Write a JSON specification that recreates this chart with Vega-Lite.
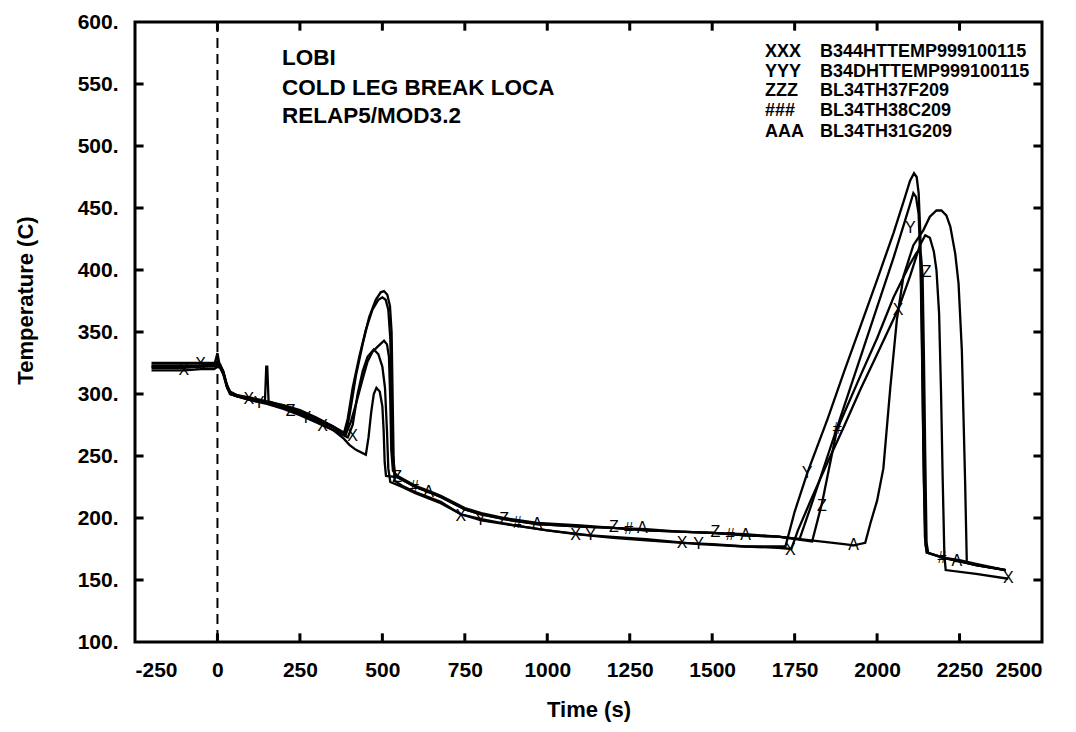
{
"$schema": "https://vega.github.io/schema/vega-lite/v6.json",
"width": 907, "height": 620,
"autosize": "none",
"padding": {"left": 135, "top": 22, "right": 34, "bottom": 90},
"background": "white",
"config": {
  "view": {"stroke": "black", "strokeWidth": 3},
  "axis": {"domain": false, "grid": false, "ticks": false,
    "labelFont": "Liberation Sans", "labelFontWeight": "bold", "labelFontSize": 21, "labelColor": "black",
    "titleFont": "Liberation Sans", "titleFontWeight": "bold", "titleFontSize": 22, "titleColor": "black"}
},
"datasets": {
  "zero": [{"t": 0}],
  "xt": [{"v":0},{"v":250},{"v":500},{"v":750},{"v":1000},{"v":1250},{"v":1500},{"v":1750},{"v":2000},{"v":2250}],
  "yt": [{"v":150},{"v":200},{"v":250},{"v":300},{"v":350},{"v":400},{"v":450},{"v":500},{"v":550}],
  "lines": [
{"s":"X","t":-200,"T":319},{"s":"X","t":-150,"T":319},{"s":"X","t":-100,"T":319},{"s":"X","t":-50,"T":320},{"s":"X","t":-10,"T":320},{"s":"X","t":0,"T":322},{"s":"X","t":8,"T":321},{"s":"X","t":18,"T":316},{"s":"X","t":28,"T":306},{"s":"X","t":38,"T":300},{"s":"X","t":60,"T":298},{"s":"X","t":100,"T":295},{"s":"X","t":150,"T":292},{"s":"X","t":200,"T":288},{"s":"X","t":250,"T":283},{"s":"X","t":300,"T":277},{"s":"X","t":350,"T":271},{"s":"X","t":395,"T":265},{"s":"X","t":410,"T":275},{"s":"X","t":425,"T":300},{"s":"X","t":440,"T":318},{"s":"X","t":455,"T":330},{"s":"X","t":474,"T":336},{"s":"X","t":488,"T":332},{"s":"X","t":500,"T":322},{"s":"X","t":508,"T":305},{"s":"X","t":514,"T":270},{"s":"X","t":518,"T":240},{"s":"X","t":524,"T":229},{"s":"X","t":560,"T":225},{"s":"X","t":600,"T":220},{"s":"X","t":677,"T":212},{"s":"X","t":738,"T":203},{"s":"X","t":800,"T":199},{"s":"X","t":900,"T":194},{"s":"X","t":1000,"T":190},{"s":"X","t":1086,"T":187},{"s":"X","t":1200,"T":184},{"s":"X","t":1300,"T":182},{"s":"X","t":1409,"T":180},{"s":"X","t":1500,"T":179},{"s":"X","t":1600,"T":177},{"s":"X","t":1700,"T":176},{"s":"X","t":1740,"T":175},{"s":"X","t":1760,"T":190},{"s":"X","t":1800,"T":215},{"s":"X","t":1850,"T":245},{"s":"X","t":1900,"T":274},{"s":"X","t":1950,"T":304},{"s":"X","t":2000,"T":332},{"s":"X","t":2065,"T":369},{"s":"X","t":2100,"T":395},{"s":"X","t":2130,"T":420},{"s":"X","t":2146,"T":428},{"s":"X","t":2160,"T":426},{"s":"X","t":2172,"T":415},{"s":"X","t":2180,"T":400},{"s":"X","t":2188,"T":365},{"s":"X","t":2194,"T":300},{"s":"X","t":2199,"T":230},{"s":"X","t":2204,"T":170},{"s":"X","t":2208,"T":158},{"s":"X","t":2300,"T":155},{"s":"X","t":2398,"T":151},
{"s":"Y","t":-200,"T":321},{"s":"Y","t":-150,"T":321},{"s":"Y","t":-100,"T":321},{"s":"Y","t":-50,"T":322},{"s":"Y","t":-10,"T":323},{"s":"Y","t":0,"T":333},{"s":"Y","t":6,"T":324},{"s":"Y","t":18,"T":318},{"s":"Y","t":30,"T":305},{"s":"Y","t":40,"T":300},{"s":"Y","t":60,"T":298},{"s":"Y","t":100,"T":296},{"s":"Y","t":144,"T":294},{"s":"Y","t":148,"T":322},{"s":"Y","t":151,"T":322},{"s":"Y","t":155,"T":294},{"s":"Y","t":200,"T":290},{"s":"Y","t":250,"T":285},{"s":"Y","t":300,"T":279},{"s":"Y","t":350,"T":273},{"s":"Y","t":388,"T":267},{"s":"Y","t":400,"T":282},{"s":"Y","t":420,"T":315},{"s":"Y","t":440,"T":340},{"s":"Y","t":460,"T":362},{"s":"Y","t":480,"T":376},{"s":"Y","t":495,"T":382},{"s":"Y","t":505,"T":383},{"s":"Y","t":515,"T":380},{"s":"Y","t":523,"T":371},{"s":"Y","t":528,"T":350},{"s":"Y","t":531,"T":300},{"s":"Y","t":534,"T":250},{"s":"Y","t":537,"T":230},{"s":"Y","t":560,"T":226},{"s":"Y","t":600,"T":221},{"s":"Y","t":677,"T":213},{"s":"Y","t":738,"T":203},{"s":"Y","t":800,"T":198},{"s":"Y","t":900,"T":194},{"s":"Y","t":1000,"T":190},{"s":"Y","t":1131,"T":186},{"s":"Y","t":1300,"T":183},{"s":"Y","t":1459,"T":179},{"s":"Y","t":1600,"T":177},{"s":"Y","t":1722,"T":177},{"s":"Y","t":1750,"T":205},{"s":"Y","t":1788,"T":236},{"s":"Y","t":1850,"T":280},{"s":"Y","t":1900,"T":318},{"s":"Y","t":1950,"T":355},{"s":"Y","t":2000,"T":392},{"s":"Y","t":2050,"T":430},{"s":"Y","t":2080,"T":455},{"s":"Y","t":2100,"T":472},{"s":"Y","t":2112,"T":478},{"s":"Y","t":2120,"T":475},{"s":"Y","t":2126,"T":462},{"s":"Y","t":2131,"T":430},{"s":"Y","t":2136,"T":350},{"s":"Y","t":2140,"T":260},{"s":"Y","t":2145,"T":185},{"s":"Y","t":2150,"T":172},{"s":"Y","t":2200,"T":168},{"s":"Y","t":2250,"T":166},{"s":"Y","t":2300,"T":163},{"s":"Y","t":2390,"T":158},
{"s":"Z","t":-200,"T":323},{"s":"Z","t":-150,"T":323},{"s":"Z","t":-100,"T":323},{"s":"Z","t":-50,"T":323},{"s":"Z","t":-10,"T":324},{"s":"Z","t":0,"T":326},{"s":"Z","t":8,"T":324},{"s":"Z","t":18,"T":318},{"s":"Z","t":28,"T":308},{"s":"Z","t":38,"T":302},{"s":"Z","t":60,"T":299},{"s":"Z","t":100,"T":296},{"s":"Z","t":150,"T":293},{"s":"Z","t":200,"T":290},{"s":"Z","t":250,"T":286},{"s":"Z","t":300,"T":280},{"s":"Z","t":350,"T":274},{"s":"Z","t":383,"T":268},{"s":"Z","t":395,"T":280},{"s":"Z","t":410,"T":305},{"s":"Z","t":430,"T":330},{"s":"Z","t":450,"T":352},{"s":"Z","t":470,"T":368},{"s":"Z","t":488,"T":376},{"s":"Z","t":500,"T":378},{"s":"Z","t":510,"T":376},{"s":"Z","t":518,"T":368},{"s":"Z","t":524,"T":345},{"s":"Z","t":528,"T":295},{"s":"Z","t":532,"T":250},{"s":"Z","t":538,"T":236},{"s":"Z","t":545,"T":233},{"s":"Z","t":600,"T":225},{"s":"Z","t":640,"T":221},{"s":"Z","t":677,"T":217},{"s":"Z","t":750,"T":207},{"s":"Z","t":800,"T":203},{"s":"Z","t":870,"T":199},{"s":"Z","t":970,"T":195},{"s":"Z","t":1100,"T":193},{"s":"Z","t":1200,"T":192},{"s":"Z","t":1300,"T":190},{"s":"Z","t":1400,"T":189},{"s":"Z","t":1500,"T":188},{"s":"Z","t":1600,"T":186},{"s":"Z","t":1700,"T":185},{"s":"Z","t":1765,"T":183},{"s":"Z","t":1800,"T":210},{"s":"Z","t":1850,"T":250},{"s":"Z","t":1900,"T":290},{"s":"Z","t":1950,"T":330},{"s":"Z","t":2000,"T":370},{"s":"Z","t":2050,"T":410},{"s":"Z","t":2085,"T":440},{"s":"Z","t":2100,"T":453},{"s":"Z","t":2110,"T":462},{"s":"Z","t":2118,"T":459},{"s":"Z","t":2126,"T":445},{"s":"Z","t":2132,"T":400},{"s":"Z","t":2137,"T":320},{"s":"Z","t":2142,"T":230},{"s":"Z","t":2147,"T":178},{"s":"Z","t":2152,"T":172},{"s":"Z","t":2200,"T":168},{"s":"Z","t":2300,"T":162},{"s":"Z","t":2390,"T":158},
{"s":"H","t":-200,"T":325},{"s":"H","t":-150,"T":325},{"s":"H","t":-100,"T":325},{"s":"H","t":-50,"T":325},{"s":"H","t":-10,"T":325},{"s":"H","t":0,"T":324},{"s":"H","t":10,"T":322},{"s":"H","t":20,"T":314},{"s":"H","t":30,"T":305},{"s":"H","t":40,"T":301},{"s":"H","t":60,"T":299},{"s":"H","t":100,"T":297},{"s":"H","t":150,"T":294},{"s":"H","t":200,"T":291},{"s":"H","t":250,"T":287},{"s":"H","t":300,"T":281},{"s":"H","t":350,"T":274},{"s":"H","t":390,"T":268},{"s":"H","t":405,"T":278},{"s":"H","t":420,"T":292},{"s":"H","t":440,"T":312},{"s":"H","t":455,"T":326},{"s":"H","t":470,"T":334},{"s":"H","t":485,"T":338},{"s":"H","t":505,"T":343},{"s":"H","t":514,"T":340},{"s":"H","t":520,"T":330},{"s":"H","t":524,"T":295},{"s":"H","t":527,"T":255},{"s":"H","t":532,"T":238},{"s":"H","t":545,"T":234},{"s":"H","t":600,"T":226},{"s":"H","t":640,"T":222},{"s":"H","t":677,"T":218},{"s":"H","t":750,"T":208},{"s":"H","t":800,"T":204},{"s":"H","t":870,"T":200},{"s":"H","t":970,"T":196},{"s":"H","t":1100,"T":194},{"s":"H","t":1200,"T":192},{"s":"H","t":1300,"T":191},{"s":"H","t":1400,"T":189},{"s":"H","t":1500,"T":188},{"s":"H","t":1600,"T":187},{"s":"H","t":1700,"T":185},{"s":"H","t":1803,"T":181},{"s":"H","t":1833,"T":212},{"s":"H","t":1878,"T":271},{"s":"H","t":1950,"T":315},{"s":"H","t":2000,"T":345},{"s":"H","t":2050,"T":378},{"s":"H","t":2100,"T":405},{"s":"H","t":2120,"T":414},{"s":"H","t":2127,"T":416},{"s":"H","t":2133,"T":412},{"s":"H","t":2138,"T":395},{"s":"H","t":2142,"T":330},{"s":"H","t":2146,"T":250},{"s":"H","t":2150,"T":180},{"s":"H","t":2155,"T":172},{"s":"H","t":2197,"T":168},{"s":"H","t":2250,"T":165},{"s":"H","t":2300,"T":162},{"s":"H","t":2390,"T":158},
{"s":"A","t":-200,"T":322},{"s":"A","t":-150,"T":322},{"s":"A","t":-100,"T":322},{"s":"A","t":-50,"T":322},{"s":"A","t":-10,"T":322},{"s":"A","t":0,"T":323},{"s":"A","t":10,"T":321},{"s":"A","t":20,"T":315},{"s":"A","t":30,"T":306},{"s":"A","t":40,"T":300},{"s":"A","t":60,"T":298},{"s":"A","t":100,"T":295},{"s":"A","t":150,"T":293},{"s":"A","t":200,"T":289},{"s":"A","t":250,"T":284},{"s":"A","t":300,"T":278},{"s":"A","t":350,"T":271},{"s":"A","t":383,"T":264},{"s":"A","t":400,"T":259},{"s":"A","t":420,"T":255},{"s":"A","t":450,"T":251},{"s":"A","t":458,"T":265},{"s":"A","t":466,"T":285},{"s":"A","t":474,"T":300},{"s":"A","t":482,"T":305},{"s":"A","t":492,"T":302},{"s":"A","t":500,"T":290},{"s":"A","t":504,"T":270},{"s":"A","t":507,"T":245},{"s":"A","t":511,"T":234},{"s":"A","t":545,"T":233},{"s":"A","t":600,"T":225},{"s":"A","t":640,"T":221},{"s":"A","t":677,"T":217},{"s":"A","t":750,"T":207},{"s":"A","t":800,"T":203},{"s":"A","t":870,"T":199},{"s":"A","t":970,"T":195},{"s":"A","t":1100,"T":193},{"s":"A","t":1200,"T":192},{"s":"A","t":1300,"T":190},{"s":"A","t":1400,"T":189},{"s":"A","t":1500,"T":188},{"s":"A","t":1600,"T":186},{"s":"A","t":1700,"T":185},{"s":"A","t":1800,"T":182},{"s":"A","t":1900,"T":179},{"s":"A","t":1929,"T":178},{"s":"A","t":1964,"T":180},{"s":"A","t":1980,"T":196},{"s":"A","t":2000,"T":214},{"s":"A","t":2019,"T":240},{"s":"A","t":2040,"T":305},{"s":"A","t":2060,"T":360},{"s":"A","t":2080,"T":395},{"s":"A","t":2110,"T":420},{"s":"A","t":2140,"T":432},{"s":"A","t":2160,"T":443},{"s":"A","t":2180,"T":448},{"s":"A","t":2195,"T":448},{"s":"A","t":2210,"T":444},{"s":"A","t":2222,"T":435},{"s":"A","t":2237,"T":413},{"s":"A","t":2247,"T":389},{"s":"A","t":2257,"T":335},{"s":"A","t":2267,"T":228},{"s":"A","t":2272,"T":164},{"s":"A","t":2300,"T":162},{"s":"A","t":2390,"T":158}
  ],
  "marks": [
{"c":"X","t":-102,"T":319},{"c":"X","t":-51,"T":324},{"c":"X","t":95,"T":296},{"c":"Y","t":126,"T":293},{"c":"Z","t":222,"T":286},{"c":"Y","t":268,"T":281},{"c":"X","t":319,"T":274},{"c":"X","t":410,"T":266},
{"c":"Z","t":545,"T":233},{"c":"#","t":597,"T":225},{"c":"A","t":640,"T":221},
{"c":"X","t":738,"T":202},{"c":"Y","t":798,"T":198},{"c":"Z","t":869,"T":199},{"c":"#","t":909,"T":196},{"c":"A","t":969,"T":195},
{"c":"X","t":1086,"T":186},{"c":"Y","t":1131,"T":186},{"c":"Z","t":1202,"T":193},{"c":"#","t":1247,"T":191},{"c":"A","t":1288,"T":192},
{"c":"X","t":1409,"T":180},{"c":"Y","t":1459,"T":179},{"c":"Z","t":1510,"T":189},{"c":"#","t":1555,"T":186},{"c":"A","t":1601,"T":186},
{"c":"X","t":1737,"T":174},{"c":"Y","t":1788,"T":236},{"c":"Z","t":1833,"T":210},{"c":"#","t":1879,"T":272},{"c":"A","t":1929,"T":178},
{"c":"X","t":2064,"T":368},{"c":"Y","t":2101,"T":434},{"c":"Z","t":2150,"T":398},{"c":"#","t":2197,"T":168},{"c":"A","t":2242,"T":165},{"c":"X","t":2398,"T":152}
  ],
  "notes": [
{"c":"LOBI","t":196,"T":570.6},{"c":"COLD LEG BREAK LOCA","t":196,"T":547},{"c":"RELAP5/MOD3.2","t":196,"T":524}
  ],
  "legend": [
{"c":"XXX","t":1660,"T":576},{"c":"YYY","t":1660,"T":560},{"c":"ZZZ","t":1660,"T":544},{"c":"###","t":1660,"T":528},{"c":"AAA","t":1660,"T":511.5},
{"c":"B344HTTEMP999100115","t":1827,"T":576},{"c":"B34DHTTEMP999100115","t":1827,"T":560},{"c":"BL34TH37F209","t":1827,"T":544},{"c":"BL34TH38C209","t":1827,"T":528},{"c":"BL34TH31G209","t":1827,"T":511.5}
  ]
},
"layer": [
  {"data": {"name": "lines"}, "mark": {"type": "line", "color": "black", "strokeWidth": 2.3},
   "encoding": {
     "x": {"field": "t", "type": "quantitative", "scale": {"domain": [-250, 2500], "nice": false, "zero": false},
           "axis": {"orient": "bottom", "title": "Time (s)", "values": [-250,0,250,500,750,1000,1250,1500,1750,2000,2250,2500], "labelExpr": "'' + datum.value", "labelPadding": 17, "titlePadding": 19}},
     "y": {"field": "T", "type": "quantitative", "scale": {"domain": [100, 600], "nice": false, "zero": false},
           "axis": {"orient": "left", "title": "Temperature (C)", "values": [100,150,200,250,300,350,400,450,500,550,600], "labelExpr": "datum.value + '.'", "labelPadding": 17, "titlePadding": 40, "titleY": 278}},
     "detail": {"field": "s"}
   }},
  {"data": {"name": "zero"}, "mark": {"type": "rule", "color": "black", "strokeWidth": 2, "strokeDash": [10, 6]},
   "encoding": {"x": {"field": "t", "type": "quantitative"}}},
  {"data": {"name": "xt"}, "mark": {"type": "rule", "color": "black", "strokeWidth": 3},
   "encoding": {"x": {"field": "v", "type": "quantitative"},
                "y": {"datum": 100, "type": "quantitative"},
                "y2": {"datum": 107}}},
  {"data": {"name": "xt"}, "mark": {"type": "rule", "color": "black", "strokeWidth": 3},
   "encoding": {"x": {"field": "v", "type": "quantitative"},
                "y": {"datum": 600, "type": "quantitative"},
                "y2": {"datum": 593}}},
  {"data": {"name": "yt"}, "mark": {"type": "rule", "color": "black", "strokeWidth": 3},
   "encoding": {"y": {"field": "v", "type": "quantitative"},
                "x": {"datum": -250, "type": "quantitative"},
                "x2": {"datum": -224}}},
  {"data": {"name": "yt"}, "mark": {"type": "rule", "color": "black", "strokeWidth": 3},
   "encoding": {"y": {"field": "v", "type": "quantitative"},
                "x": {"datum": 2500, "type": "quantitative"},
                "x2": {"datum": 2474}}},
  {"data": {"name": "marks"}, "mark": {"type": "text", "font": "Liberation Sans", "fontSize": 16, "fill": "black", "baseline": "middle", "align": "center"},
   "encoding": {
     "x": {"field": "t", "type": "quantitative"},
     "y": {"field": "T", "type": "quantitative"},
     "text": {"field": "c"}
   }},
  {"data": {"name": "notes"}, "mark": {"type": "text", "font": "Liberation Sans", "fontWeight": "bold", "fontSize": 22.5, "fill": "black", "baseline": "middle", "align": "left"},
   "encoding": {
     "x": {"field": "t", "type": "quantitative"},
     "y": {"field": "T", "type": "quantitative"},
     "text": {"field": "c"}
   }},
  {"data": {"name": "legend"}, "mark": {"type": "text", "font": "Liberation Sans", "fontWeight": "bold", "fontSize": 18, "fill": "black", "baseline": "middle", "align": "left"},
   "encoding": {
     "x": {"field": "t", "type": "quantitative"},
     "y": {"field": "T", "type": "quantitative"},
     "text": {"field": "c"}
   }}
]
}
